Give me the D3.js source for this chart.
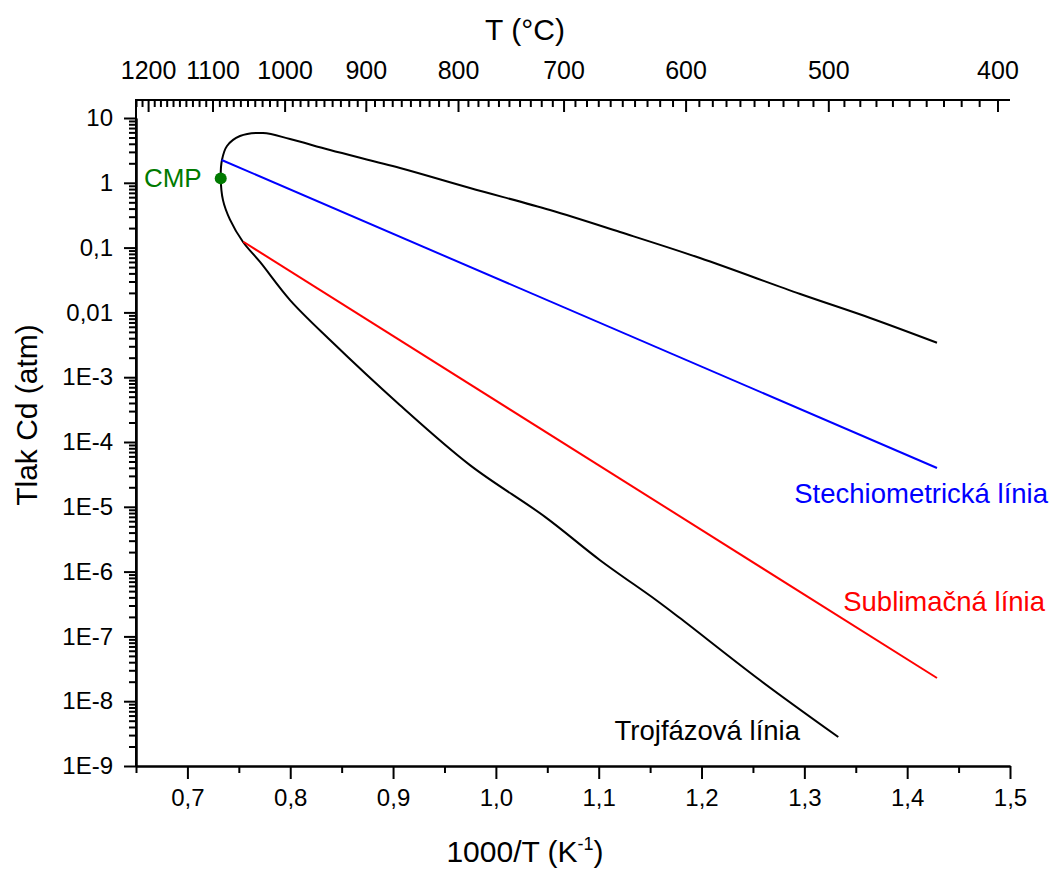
<!DOCTYPE html>
<meta charset="utf-8">
<style>
body { margin: 0; background: #fff; }
svg text { font-family: "Liberation Sans", Arial, sans-serif; }
.axis path, .axis line { stroke: #000; stroke-width: 2px; }
.axis text { font-size: 24px; fill: #000; }
</style>
<svg width="1051" height="870"></svg>
<script src="https://d3js.org/d3.v7.min.js"></script>
<script>
// 1000/T values and Cd pressure (atm)
var triX = [1.429, 1.364, 1.296, 1.1985, 1.1207, 1.0526, 0.9748, 0.9068, 0.8387, 0.7998, 0.7735, 0.7511, 0.7385, 0.7336, 0.7324, 0.7346, 0.7414, 0.7541, 0.7706, 0.7998, 0.8387, 0.9068, 0.9748, 1.0478, 1.1013, 1.1557, 1.179, 1.257, 1.333];
var triP = [3.4e-3, 8.2e-3, 0.0192, 0.069, 0.174, 0.38, 0.83, 1.69, 3.2, 4.74, 5.87, 5.27, 3.7, 2.25, 1.19, 0.54, 0.27, 0.122, 0.06, 0.0155, 3.75e-3, 3.7e-4, 4.4e-5, 7.0e-6, 1.5e-6, 3.65e-7, 1.92e-7, 2.1e-8, 2.8e-9];
var stoX = [0.7333, 1.429];
var stoP = [2.25, 3.97e-5];
var subX = [0.7544, 1.429];
var subP = [0.123, 2.28e-8];
var cmp = {x: 0.7324, p: 1.17};

var xMajor = [0.7, 0.8, 0.9, 1.0, 1.1, 1.2, 1.3, 1.4, 1.5];
var xMinor = [0.65, 0.75, 0.85, 0.95, 1.05, 1.15, 1.25, 1.35, 1.45];
var yMajor = [10, 1, 0.1, 0.01, 1e-3, 1e-4, 1e-5, 1e-6, 1e-7, 1e-8, 1e-9];
var yLabels = ["10", "1", "0,1", "0,01", "1E-3", "1E-4", "1E-5", "1E-6", "1E-7", "1E-8", "1E-9"];
var tMajor = [1200, 1100, 1000, 900, 800, 700, 600, 500, 400];

var svg = d3.select("svg");
var plotL = 136, plotR = 1010, plotT = 100, plotB = 766;

var x = d3.scaleLinear().domain([0.65, 1.5]).range([plotL, plotR]);
var y = d3.scaleLog().domain([1e-9, 10]).range([plotB, 118]);

// top axis in °C, fitted to the printed tick positions
var K = 680;
var tScale = d3.scaleLinear().domain([1 / (1100 + K), 1 / (400 + K)]).range([x(0.7249), x(1.4883)]);
function tx(t) { return tScale(1 / (t + K)); }

var comma = function(d) { return d3.format(".1f")(d).replace(".", ","); };

// bottom axis
svg.append("g").attr("class", "axis").attr("transform", "translate(0," + plotB + ")")
  .call(d3.axisBottom(x).tickValues(xMinor).tickSize(7).tickFormat("").tickSizeOuter(0));
svg.append("g").attr("class", "axis").attr("transform", "translate(0," + plotB + ")")
  .call(d3.axisBottom(x).tickValues(xMajor).tickSize(13).tickPadding(10).tickFormat(comma).tickSizeOuter(0));

// left axis
var yMinor = [];
yMajor.slice(1).forEach(function(d) { for (var k = 2; k <= 9; k++) yMinor.push(d * k); });
svg.append("g").attr("class", "axis").attr("transform", "translate(" + plotL + ",0)")
  .call(d3.axisLeft(y).tickValues(yMinor).tickSize(7).tickFormat("").tickSizeOuter(0));
svg.append("g").attr("class", "axis").attr("transform", "translate(" + plotL + ",0)")
  .call(d3.axisLeft(y).tickValues(yMajor).tickSize(12).tickPadding(11)
    .tickFormat(function(d, i) { return yLabels[i]; }).tickSizeOuter(0));
svg.append("line").attr("x1", plotL).attr("x2", plotL).attr("y1", plotT - 1).attr("y2", plotB)
  .attr("stroke", "#000").attr("stroke-width", 2);

// top axis (°C), ticks pointing inside
var gTop = svg.append("g");
gTop.append("line").attr("x1", plotL - 1).attr("x2", plotR).attr("y1", plotT).attr("y2", plotT)
  .attr("stroke", "#000").attr("stroke-width", 2);
var tMinor = d3.range(400, 1240, 10).filter(function(t) { return t % 100 !== 0 && tx(t) >= plotL && tx(t) <= plotR; });
gTop.selectAll(".tmin").data(tMinor).enter().append("line")
  .attr("x1", tx).attr("x2", tx).attr("y1", plotT).attr("y2", plotT + 7)
  .attr("stroke", "#000").attr("stroke-width", 2);
gTop.selectAll(".tmaj").data(tMajor).enter().append("line")
  .attr("x1", tx).attr("x2", tx).attr("y1", plotT).attr("y2", plotT + 12)
  .attr("stroke", "#000").attr("stroke-width", 2);
gTop.selectAll(".tlab").data(tMajor).enter().append("text")
  .attr("x", tx).attr("y", 79).attr("text-anchor", "middle")
  .style("font-size", "25px").text(function(d) { return d; });

// axis titles
svg.append("text").attr("x", 525).attr("y", 40).attr("text-anchor", "middle")
  .style("font-size", "30px").text("T (°C)");
var xt = svg.append("text").attr("x", 525).attr("y", 862).attr("text-anchor", "middle").style("font-size", "30px");
xt.append("tspan").text("1000/T (K");
xt.append("tspan").attr("dy", -12).style("font-size", "18px").text("-1");
xt.append("tspan").attr("dy", 12).text(")");
svg.append("text").attr("transform", "translate(37,415) rotate(-90)").attr("text-anchor", "middle")
  .style("font-size", "30px").text("Tlak Cd (atm)");

// curves
function pts(xs, ps) { return xs.map(function(v, i) { return [x(v), y(ps[i])]; }); }
var line = d3.line().curve(d3.curveCatmullRom.alpha(0.5));
svg.append("path").attr("d", line(pts(triX, triP))).attr("fill", "none").attr("stroke", "#000").attr("stroke-width", 2);
svg.append("path").attr("d", d3.line()(pts(stoX, stoP))).attr("fill", "none").attr("stroke", "#0000ff").attr("stroke-width", 2);
svg.append("path").attr("d", d3.line()(pts(subX, subP))).attr("fill", "none").attr("stroke", "#ff0000").attr("stroke-width", 2);

svg.append("circle").attr("cx", x(cmp.x)).attr("cy", y(cmp.p)).attr("r", 6).attr("fill", "#007a00");
svg.append("text").attr("x", x(cmp.x) - 19).attr("y", y(cmp.p) + 9).attr("text-anchor", "end")
  .style("font-size", "26px").attr("fill", "#007a00").text("CMP");

// line labels
svg.append("text").attr("x", 1048).attr("y", 503).attr("text-anchor", "end").style("font-size", "27.5px").attr("fill", "#0000ff").text("Stechiometrická línia");
svg.append("text").attr("x", 1045).attr("y", 611).attr("text-anchor", "end").style("font-size", "27.5px").attr("fill", "#ff0000").text("Sublimačná línia");
svg.append("text").attr("x", 800).attr("y", 740).attr("text-anchor", "end").style("font-size", "27.5px").attr("fill", "#000").text("Trojfázová línia");
</script>
